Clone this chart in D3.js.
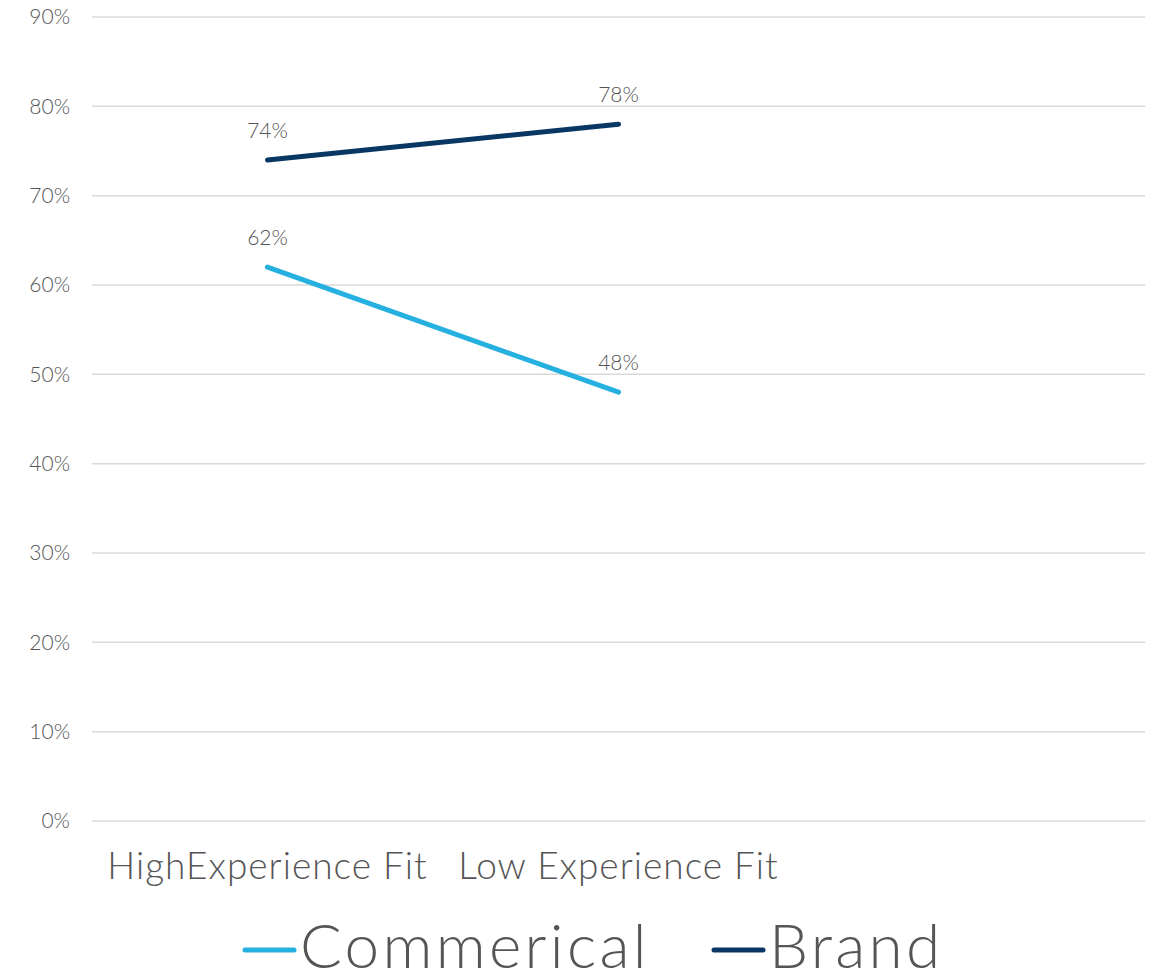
<!DOCTYPE html>
<html>
<head>
<meta charset="utf-8">
<script src="https://cdn.jsdelivr.net/npm/d3@7"></script>
<style>
  html, body { margin: 0; padding: 0; background: #fff; }
  svg { display: block; font-family: Lato, "Open Sans", sans-serif; font-weight: 300; }
</style>
</head>
<body>
<svg id="chart" width="1158" height="980"></svg>
<script>
// Categories along the x axis (third slot is left blank)
const categories = ["HighExperience Fit", "Low Experience Fit", ""];
// Series values in percent
const commercialValues = [62, 48];
const brandValues = [74, 78];
const seriesNames = ["Commerical", "Brand"];
const seriesColors = ["#25B0DF", "#083763"];
const yTicks = [0, 10, 20, 30, 40, 50, 60, 70, 80, 90];

const series = [
  { name: seriesNames[0], color: seriesColors[0], values: commercialValues },
  { name: seriesNames[1], color: seriesColors[1], values: brandValues }
];

const textColor = "#555555";
const svg = d3.select("#chart");
const margin = { left: 92, right: 13, top: 17, bottom: 159 };
const W = 1158, H = 980;

const x = d3.scaleBand()
  .domain(categories.map((c, i) => i))
  .range([margin.left, W - margin.right]);

const y = d3.scaleLinear()
  .domain([0, 90])
  .range([H - margin.bottom, margin.top]);

// Horizontal gridlines
svg.append("g")
  .selectAll("line")
  .data(yTicks)
  .join("line")
  .attr("x1", margin.left)
  .attr("x2", W - margin.right)
  .attr("y1", d => y(d))
  .attr("y2", d => y(d))
  .attr("stroke", "#D9D9D9")
  .attr("stroke-width", 1.5);

// Y axis labels
const yAxis = d3.axisLeft(y).tickValues(yTicks).tickFormat(d => d + "%").tickSize(0).tickPadding(22);
const yg = svg.append("g").attr("transform", `translate(${margin.left},0)`).call(yAxis);
yg.select(".domain").remove();
yg.selectAll("text")
  .attr("fill", textColor)
  .style("font-size", "21px")
  .style("font-family", "Lato, sans-serif");

// X axis labels
const xAxis = d3.axisBottom(x).tickFormat(i => categories[i]).tickSize(0).tickPadding(32);
const xg = svg.append("g").attr("transform", `translate(0,${H - margin.bottom})`).call(xAxis);
xg.select(".domain").remove();
xg.selectAll("text")
  .attr("fill", textColor)
  .style("font-size", "37px")
  .style("letter-spacing", "1px")
  .style("font-family", "Lato, sans-serif");

// Lines
const line = d3.line()
  .x((d, i) => x(i) + x.bandwidth() / 2)
  .y(d => y(d));

svg.append("g")
  .selectAll("path")
  .data(series)
  .join("path")
  .attr("d", d => line(d.values))
  .attr("fill", "none")
  .attr("stroke", d => d.color)
  .attr("stroke-width", 5)
  .attr("stroke-linecap", "round")
  .attr("stroke-linejoin", "round");

// Data labels above each point
series.forEach(s => {
  svg.append("g")
    .selectAll("text")
    .data(s.values)
    .join("text")
    .attr("x", (d, i) => x(i) + x.bandwidth() / 2)
    .attr("y", d => y(d) - 22)
    .attr("text-anchor", "middle")
    .attr("fill", textColor)
    .style("font-size", "21px")
    .text(d => d + "%");
});

// Legend
const legendItems = [
  { name: seriesNames[0], color: seriesColors[0], x: 243 },
  { name: seriesNames[1], color: seriesColors[1], x: 712 }
];
const lg = svg.append("g");
legendItems.forEach(it => {
  lg.append("line")
    .attr("x1", it.x + 2).attr("x2", it.x + 51)
    .attr("y1", 950).attr("y2", 950)
    .attr("stroke", it.color)
    .attr("stroke-width", 5)
    .attr("stroke-linecap", "round");
  lg.append("text")
    .attr("x", it.x + 57)
    .attr("y", 968)
    .attr("fill", textColor)
    .style("font-size", "62px")
    .style("letter-spacing", "3.3px")
    .text(it.name);
});
</script>
</body>
</html>
